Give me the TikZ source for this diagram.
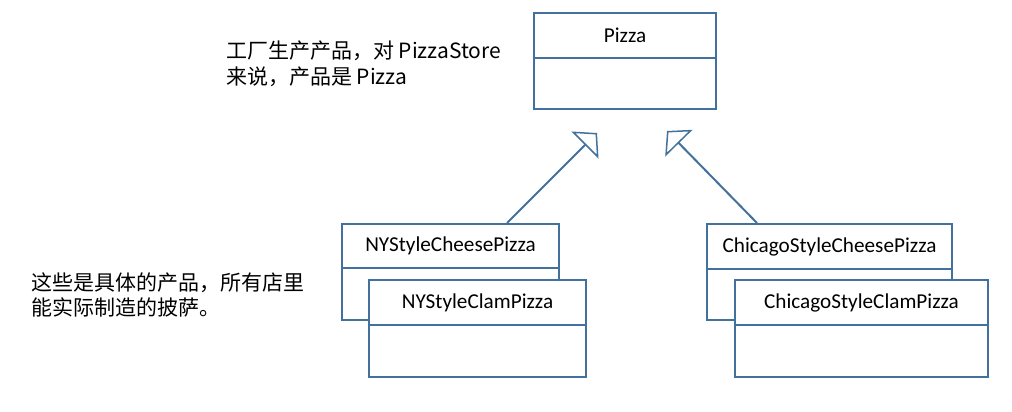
\documentclass[tikz,border=0pt]{standalone}
\usepackage{fontspec}
\setmainfont{Carlito}
\newfontfamily\cjk{Noto Sans CJK SC}
\usetikzlibrary{arrows.meta,calc}
\definecolor{umlblue}{HTML}{41719C}
\tikzset{
  umltitle/.style={draw=umlblue, line width=2pt, fill=white, inner sep=0pt, anchor=north west,
    font=\fontsize{21.2}{24}\selectfont, text=black},
  umlbody/.style={draw=umlblue, line width=2pt, fill=white, inner sep=0pt, anchor=north west},
  note/.style={inner sep=0pt, anchor=west, align=left, font=\cjk\fontsize{21}{25.5}\selectfont, text=black},
  inherit/.style={draw=umlblue, line width=2pt, -{Triangle[open, length=17pt, width=38pt, line width=1.5pt, fill=white]}}
}
\begin{document}
\begin{tikzpicture}[x=1pt, y=-1pt]
\useasboundingbox (0,0) rectangle (1012,412);
% Pizza
\node[umltitle, minimum width=182pt, minimum height=45pt] (pt) at (533,12) {Pizza};
\node[umlbody, minimum width=182pt, minimum height=51pt] (pb) at (533,57) {};
% NY cheese
\node[umltitle, minimum width=217pt, minimum height=44pt] (nyct) at (341,223) {NYStyleCheesePizza};
\node[umlbody, minimum width=217pt, minimum height=52pt] (nycb) at (341,267) {};
% NY clam
\node[umltitle, minimum width=217pt, minimum height=45pt] (nylt) at (368,279) {NYStyleClamPizza};
\node[umlbody, minimum width=217pt, minimum height=52pt] (nylb) at (368,324) {};
% Chicago cheese
\node[umltitle, minimum width=245pt, minimum height=45pt] (chct) at (706,223) {ChicagoStyleCheesePizza};
\node[umlbody, minimum width=245pt, minimum height=51pt] (chcb) at (706,268) {};
% Chicago clam
\node[umltitle, minimum width=253pt, minimum height=45pt] (chlt) at (734,279) {ChicagoStyleClamPizza};
\node[umlbody, minimum width=253pt, minimum height=52pt] (chlb) at (734,324) {};
% arrows
\coordinate (tipl) at (597,133);
\coordinate (tipr) at (667,131);
\draw[inherit] ($(nyct.north west)+(166,0)$) -- (tipl);
\draw[inherit] ($(chct.north west)+(51,0)$) -- (tipr);
% notes
\node[note] (n1) at (226,64) {工厂生产产品，对 PizzaStore\\来说，产品是 Pizza};
\node[note] (n2) at (31,295) {这些是具体的产品，所有店里\\能实际制造的披萨。};
\end{tikzpicture}
\end{document}
